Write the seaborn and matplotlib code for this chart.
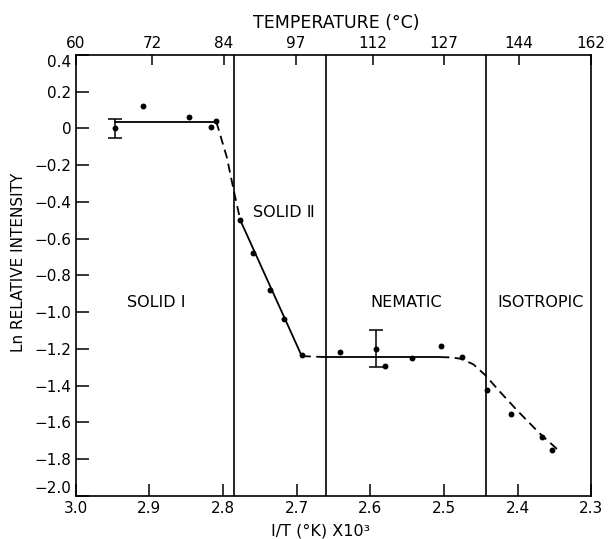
import matplotlib

matplotlib.use("Agg")
import matplotlib.pyplot as plt
import matplotlib.ticker as mticker
import numpy as np
import pandas as pd
import seaborn as sns

# measured points: 1/T (x10^3) and ln relative intensity
inv_t = [2.947, 2.908, 2.846, 2.816, 2.809, 2.7765, 2.759, 2.7366, 2.7168, 2.6932,
         2.6408, 2.5923, 2.5797, 2.5439, 2.5045, 2.476, 2.4412, 2.4086, 2.3673, 2.353]
ln_int = [0.0, 0.12, 0.06, 0.01, 0.04, -0.50, -0.68, -0.88, -1.04, -1.236,
          -1.216, -1.20, -1.296, -1.25, -1.183, -1.246, -1.426, -1.557, -1.682, -1.753]

# error bars
err_x = [2.947, 2.5923]
err_y = [0.0, -1.20]
err_h = [0.05, 0.10]

# drawn fit lines
solid1_x = [2.947, 2.809]
solid1_y = [0.035, 0.035]
dash1_x = [2.809, 2.795, 2.785, 2.7765]
dash1_y = [0.035, -0.154, -0.345, -0.50]
solid2_x = [2.7765, 2.693]
solid2_y = [-0.50, -1.24]
dash2_x = [2.693, 2.66]
dash2_y = [-1.24, -1.245]
solid3_x = [2.66, 2.505]
solid3_y = [-1.245, -1.245]
dash3_x = [2.505, 2.49, 2.476, 2.46, 2.444, 2.424, 2.401, 2.370, 2.3425]
dash3_y = [-1.245, -1.247, -1.255, -1.285, -1.343, -1.434, -1.534, -1.661, -1.76]

# phase boundaries and labels
boundaries = [2.7855, 2.6606, 2.4434]
phase_names = ["SOLID \u2160", "SOLID \u2161", "NEMATIC", "ISOTROPIC"]
phase_x = [2.891, 2.717, 2.551, 2.3695]
phase_y = [-0.95, -0.46, -0.95, -0.95]

# axis ticks
x_ticks = [3.0, 2.9, 2.8, 2.7, 2.6, 2.5, 2.4, 2.3]
y_ticks = [0.4, 0.2, 0.0, -0.2, -0.4, -0.6, -0.8, -1.0, -1.2, -1.4, -1.6, -1.8, -2.0]
temps_c = [60, 72, 84, 97, 112, 127, 144, 162]

sns.set_style("ticks")
plt.rcParams["font.family"] = ["DejaVu Sans"]
plt.rcParams["text.color"] = "black"
plt.rcParams["axes.labelcolor"] = "black"

fig = plt.figure(figsize=(6.08, 5.39), dpi=100, facecolor="white")
ax = fig.add_axes([0.1245, 0.0803, 0.848, 0.8177])

lw = 1.3
dash = (0, (5, 3))
for xs, ys, ls in [
    (solid1_x, solid1_y, "-"),
    (dash1_x, dash1_y, dash),
    (solid2_x, solid2_y, "-"),
    (dash2_x, dash2_y, dash),
    (solid3_x, solid3_y, "-"),
    (dash3_x, dash3_y, dash),
]:
    sns.lineplot(x=xs, y=ys, sort=False, estimator=None, color="black",
                 linewidth=lw, linestyle=ls, ax=ax)

pts = pd.DataFrame({"x": inv_t, "y": ln_int})
sns.scatterplot(data=pts, x="x", y="y", color="black", s=18, linewidth=0, ax=ax, zorder=5)

ax.errorbar(err_x, err_y, yerr=err_h, fmt="none", ecolor="black",
            elinewidth=1.1, capsize=5, capthick=1.1)

for b in boundaries:
    ax.axvline(b, color="black", linewidth=1.2)

for name, px, py in zip(phase_names, phase_x, phase_y):
    ax.text(px, py, name, fontsize=11.5, ha="center", va="center", color="black")

ax.set_xlim(3.0, 2.3)
ax.set_ylim(-2.0, 0.4)
ax.set_xticks(x_ticks)
ax.set_yticks(y_ticks)
ax.xaxis.set_major_formatter(mticker.FuncFormatter(lambda v, p: f"{v:.1f}"))
ax.yaxis.set_major_formatter(
    mticker.FuncFormatter(lambda v, p: "0" if abs(v) < 1e-9 else f"{v:.1f}".replace("-", "\u2212"))
)
ax.tick_params(axis="x", direction="in", length=9, width=1.1, labelsize=11, pad=4, colors="black")
ax.tick_params(axis="y", direction="in", length=9, width=1.1, labelsize=11, pad=3, colors="black")
for lab in ax.get_yticklabels():
    if lab.get_text() == "0.4":
        lab.set_verticalalignment("top")
    elif lab.get_text() == "\u22122.0":
        lab.set_verticalalignment("bottom")

for sp in ax.spines.values():
    sp.set_visible(True)
    sp.set_linewidth(1.2)
    sp.set_color("black")

ax.set_xlabel("I/T (\u00b0K) X10\u00b3", fontsize=11.5)
ax.set_ylabel("Ln RELATIVE INTENSITY", fontsize=11)
ax.xaxis.set_label_coords(0.474, -0.062)
ax.yaxis.set_label_coords(-0.097, 0.53)

ax2 = ax.twiny()
ax2.set_xlim(ax.get_xlim())
ax2.set_xticks([1000.0 / (t + 273.15) for t in temps_c])
ax2.set_xticklabels([str(t) for t in temps_c])
ax2.tick_params(axis="x", direction="in", length=7, width=1.1, labelsize=11, pad=3, colors="black")
ax2.set_xlabel("TEMPERATURE (\u00b0C)", fontsize=12.5)
ax2.xaxis.set_label_coords(0.505, 1.061)
for sp in ax2.spines.values():
    sp.set_visible(False)

fig.savefig("out.png", dpi=100)
